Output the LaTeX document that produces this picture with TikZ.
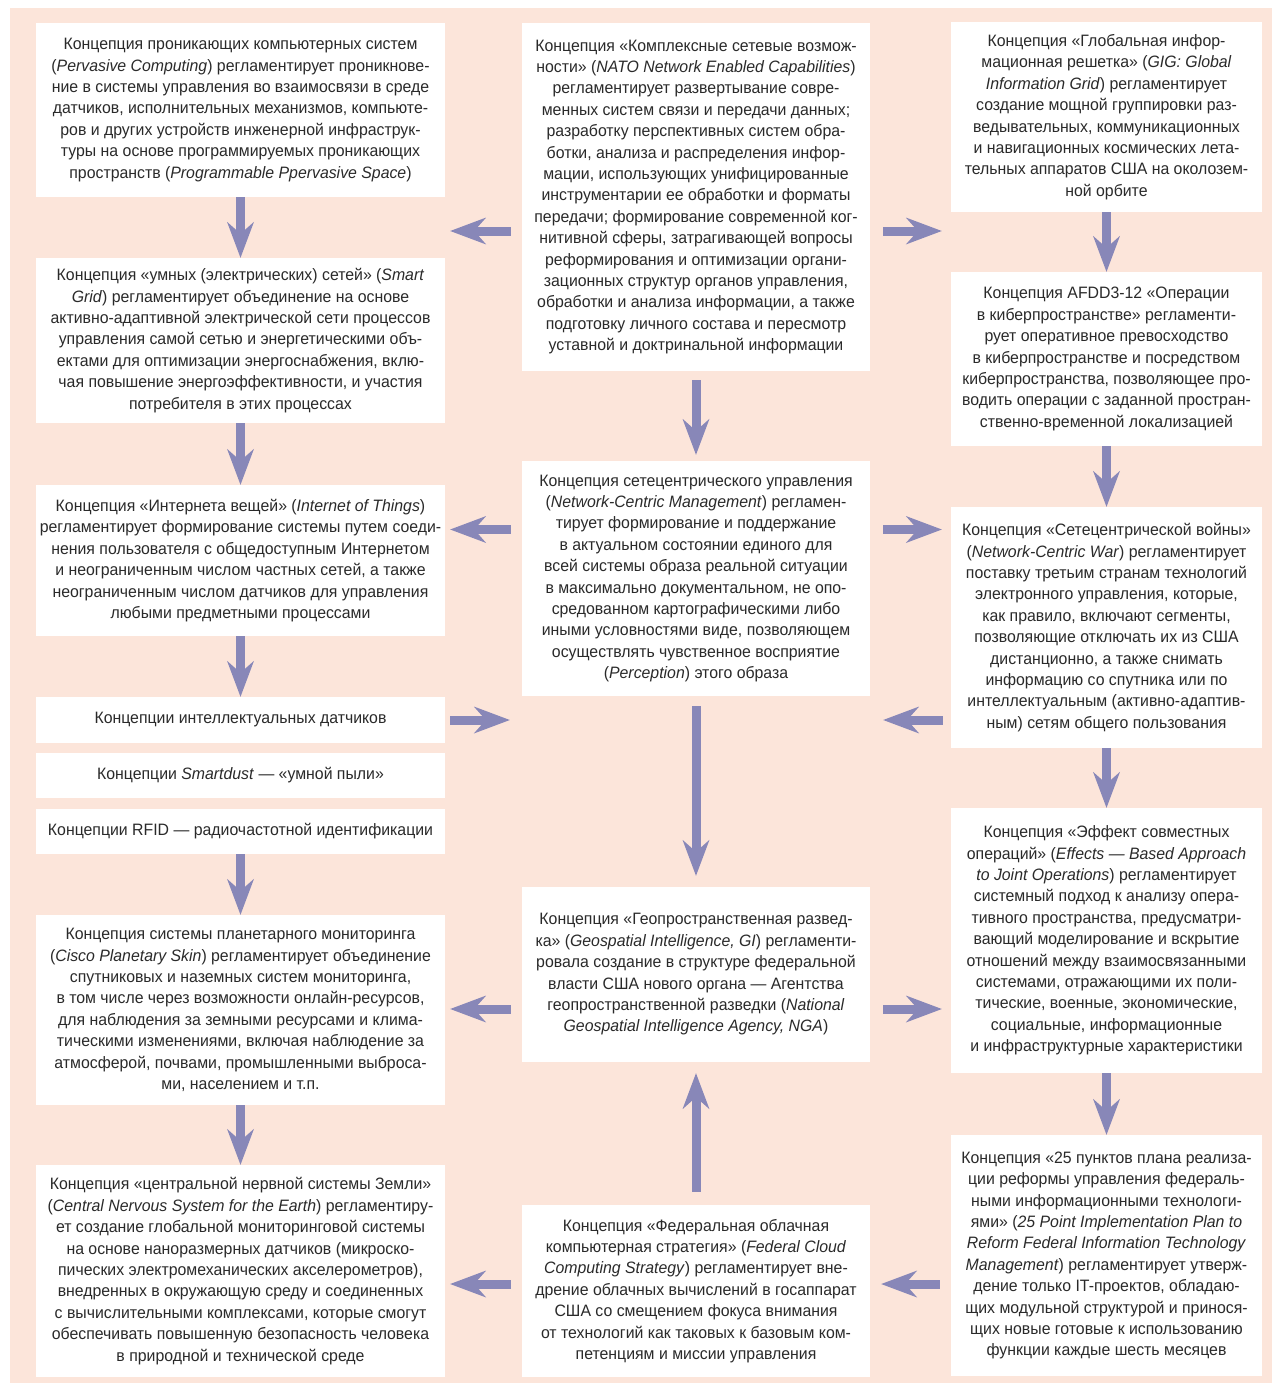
\documentclass[tikz,border=0pt]{standalone}
\usepackage{fontspec}
\setmainfont{Liberation Sans}[FakeStretch=0.96]
\usetikzlibrary{arrows.meta,calc}
\definecolor{bgpink}{HTML}{FCE5DA}
\definecolor{arrowc}{HTML}{8887B8}
\definecolor{txt}{HTML}{2A2A2A}
\begin{document}
\begin{tikzpicture}[x=1pt,y=-1pt,
  box/.style={fill=white, inner sep=0pt, align=center, text=txt,
    font=\fontsize{16.5}{21.4}\selectfont},
  arr/.style={draw=arrowc, line width=9pt,
    -{Stealth[length=36pt,width=27pt,inset=12pt,line width=0pt]}}]
\useasboundingbox (0,0) rectangle (1274,1385);
\fill[white] (0,0) rectangle (1274,1385);
\fill[bgpink] (10,8) rectangle (1272,1383);

% left column
\node[box, minimum width=409pt, minimum height=174pt] (L1) at (240.5,110) {Концепция проникающих компьютерных систем\\(\textit{Pervasive Computing}) регламентирует проникнове-\\ние в системы управления во взаимосвязи в среде\\датчиков, исполнительных механизмов, компьюте-\\ров и других устройств инженерной инфраструк-\\туры на основе программируемых проникающих\\пространств (\textit{Programmable Ppervasive Space})};
\node[box, minimum width=409pt, minimum height=165pt] (L2) at (240.5,340.5) {Концепция «умных (электрических) сетей» (\textit{Smart}\\\textit{Grid}) регламентирует объединение на основе\\активно-адаптивной электрической сети процессов\\управления самой сетью и энергетическими объ-\\ектами для оптимизации энергоснабжения, вклю-\\чая повышение энергоэффективности, и участия\\потребителя в этих процессах};
\node[box, minimum width=409pt, minimum height=151pt] (L3) at (240.5,560.5) {Концепция «Интернета вещей» (\textit{Internet of Things})\\регламентирует формирование системы путем соеди-\\нения пользователя с общедоступным Интернетом\\и неограниченным числом частных сетей, а также\\неограниченным числом датчиков для управления\\любыми предметными процессами};
\node[box, minimum width=409pt, minimum height=46pt] (L4) at (240.5,720) {Концепции интеллектуальных датчиков};
\node[box, minimum width=409pt, minimum height=45pt] (L5) at (240.5,775.5) {Концепции \textit{Smartdust} — «умной пыли»};
\node[box, minimum width=409pt, minimum height=45pt] (L6) at (240.5,831.5) {Концепции RFID — радиочастотной идентификации};
\node[box, minimum width=409pt, minimum height=190pt] (L7) at (240.5,1010) {Концепция системы планетарного мониторинга\\(\textit{Cisco Planetary Skin}) регламентирует объединение\\спутниковых и наземных систем мониторинга,\\в том числе через возможности онлайн-ресурсов,\\для наблюдения за земными ресурсами и клима-\\тическими изменениями, включая наблюдение за\\атмосферой, почвами, промышленными выброса-\\ми, населением и т.п.};
\node[box, minimum width=409pt, minimum height=212pt] (L8) at (240.5,1271) {Концепция «центральной нервной системы Земли»\\(\textit{Central Nervous System for the Earth}) регламентиру-\\ет создание глобальной мониторинговой системы\\на основе наноразмерных датчиков (микроско-\\пических электромеханических акселерометров),\\внедренных в окружающую среду и соединенных\\с вычислительными комплексами, которые смогут\\обеспечивать повышенную безопасность человека\\в природной и технической среде};

% middle column
\node[box, minimum width=348pt, minimum height=348pt] (M1) at (696,197) {Концепция «Комплексные сетевые возмож-\\ности» (\textit{NATO Network Enabled Capabilities})\\регламентирует развертывание совре-\\менных систем связи и передачи данных;\\разработку перспективных систем обра-\\ботки, анализа и распределения инфор-\\мации, использующих унифицированные\\инструментарии ее обработки и форматы\\передачи; формирование современной ког-\\нитивной сферы, затрагивающей вопросы\\реформирования и оптимизации органи-\\зационных структур органов управления,\\обработки и анализа информации, а также\\подготовку личного состава и пересмотр\\уставной и доктринальной информации};
\node[box, minimum width=348pt, minimum height=235pt] (M2) at (696,578.5) {Концепция сетецентрического управления\\(\textit{Network-Centric Management}) регламен-\\тирует формирование и поддержание\\в актуальном состоянии единого для\\всей системы образа реальной ситуации\\в максимально документальном, не опо-\\средованном картографическими либо\\иными условностями виде, позволяющем\\осуществлять чувственное восприятие\\(\textit{Perception}) этого образа};
\node[box, minimum width=348pt, minimum height=175pt] (M3) at (696,974.5) {Концепция «Геопространственная развед-\\ка» (\textit{Geospatial Intelligence, GI}) регламенти-\\ровала создание в структуре федеральной\\власти США нового органа — Агентства\\геопространственной разведки (\textit{National}\\\textit{Geospatial Intelligence Agency, NGA})};
\node[box, minimum width=348pt, minimum height=172pt] (M4) at (696,1291) {Концепция «Федеральная облачная\\компьютерная стратегия» (\textit{Federal Cloud}\\\textit{Computing Strategy}) регламентирует вне-\\дрение облачных вычислений в госаппарат\\США со смещением фокуса внимания\\от технологий как таковых к базовым ком-\\петенциям и миссии управления};

% right column
\node[box, minimum width=311pt, minimum height=190pt] (R1) at (1106.5,117) {Концепция «Глобальная инфор-\\мационная решетка» (\textit{GIG: Global}\\\textit{Information Grid}) регламентирует\\создание мощной группировки раз-\\ведывательных, коммуникационных\\и навигационных космических лета-\\тельных аппаратов США на околозем-\\ной орбите};
\node[box, minimum width=311pt, minimum height=174pt] (R2) at (1106.5,359) {Концепция AFDD3-12 «Операции\\в киберпространстве» регламенти-\\рует оперативное превосходство\\в киберпространстве и посредством\\киберпространства, позволяющее про-\\водить операции с заданной простран-\\ственно-временной локализацией};
\node[box, minimum width=311pt, minimum height=241pt] (R3) at (1106.5,627.5) {Концепция «Сетецентрической войны»\\(\textit{Network-Centric War}) регламентирует\\поставку третьим странам технологий\\электронного управления, которые,\\как правило, включают сегменты,\\позволяющие отключать их из США\\дистанционно, а также снимать\\информацию со спутника или по\\интеллектуальным (активно-адаптив-\\ным) сетям общего пользования};
\node[box, minimum width=311pt, minimum height=265pt] (R4) at (1106.5,940.5) {Концепция «Эффект совместных\\операций» (\textit{Effects — Based Approach}\\\textit{to Joint Operations}) регламентирует\\системный подход к анализу опера-\\тивного пространства, предусматри-\\вающий моделирование и вскрытие\\отношений между взаимосвязанными\\системами, отражающими их поли-\\тические, военные, экономические,\\социальные, информационные\\и инфраструктурные характеристики};
\node[box, minimum width=311pt, minimum height=241pt] (R5) at (1106.5,1255.5) {Концепция «25 пунктов плана реализа-\\ции реформы управления федераль-\\ными информационными технологи-\\ями» (\textit{25 Point Implementation Plan to}\\\textit{Reform Federal Information Technology}\\\textit{Management}) регламентирует утверж-\\дение только IT-проектов, обладаю-\\щих модульной структурой и принося-\\щих новые готовые к использованию\\функции каждые шесть месяцев};

% vertical arrows
\draw[arr] (L1.south) -- (L2.north);
\draw[arr] (L2.south) -- (L3.north);
\draw[arr] (L3.south) -- (L4.north);
\draw[arr] (L6.south) -- (L7.north);
\draw[arr] (L7.south) -- (L8.north);
\draw[arr] ($(M1.south)+(0,9)$) -- ($(M2.north)+(0,-6)$);
\draw[arr] ($(M2.south)+(0,10)$) -- ($(M3.north)+(0,-11)$);
\draw[arr] ($(M4.north)+(0,-13)$) -- ($(M3.south)+(0,11)$);
\draw[arr] (R1.south) -- (R2.north);
\draw[arr] (R2.south) -- (R3.north);
\draw[arr] (R3.south) -- (R4.north);
\draw[arr] (R4.south) -- (R5.north);

% horizontal arrows
\draw[arr] ($(M1.west |- 0,231)+(-11,0)$) -- ($(L1.east |- 0,231)+(5,0)$);
\draw[arr] ($(M1.east |- 0,231)+(13,0)$) -- ($(R1.west |- 0,231)+(-9,0)$);
\draw[arr] ($(M2.west |- 0,529.5)+(-11,0)$) -- ($(L3.east |- 0,529.5)+(5,0)$);
\draw[arr] ($(M2.east |- 0,529.5)+(13,0)$) -- ($(R3.west |- 0,529.5)+(-9,0)$);
\draw[arr] ($(L4.east)+(5,0)$) -- ($(M2.west |- L4.east)+(-12,0)$);
\draw[arr] ($(R3.west |- L4.east)+(-8,0)$) -- ($(M2.east |- L4.east)+(13,0)$);
\draw[arr] ($(M3.west |- 0,1009)+(-11,0)$) -- ($(L7.east |- 0,1009)+(5,0)$);
\draw[arr] ($(M3.east |- 0,1009)+(13,0)$) -- ($(R4.west |- 0,1009)+(-9,0)$);
\draw[arr] ($(M4.west |- 0,1284)+(-11,0)$) -- ($(L8.east |- 0,1284)+(5,0)$);
\draw[arr] ($(R5.west |- 0,1284)+(-11,0)$) -- ($(M4.east |- 0,1284)+(11,0)$);
\end{tikzpicture}
\end{document}
